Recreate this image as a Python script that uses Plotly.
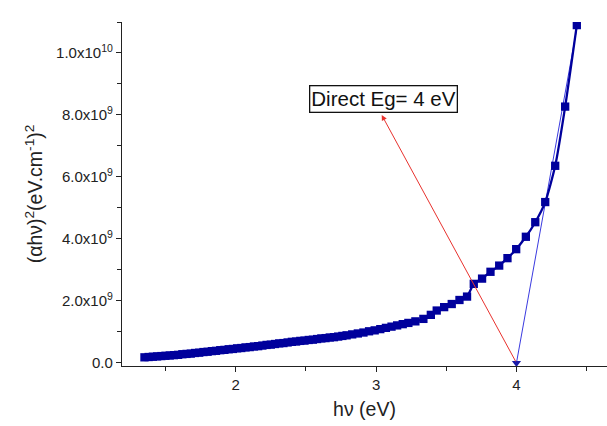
import plotly.graph_objects as go

# Photon energy (eV) and (alpha h nu)^2 values (in units of 1e9 (eV/cm)^2)
hv = [1.35, 1.38, 1.41, 1.44, 1.47, 1.50, 1.53, 1.56, 1.59, 1.62, 1.65, 1.68, 1.71, 1.74,
      1.77, 1.80, 1.83, 1.86, 1.89, 1.92, 1.95, 1.98, 2.01, 2.04, 2.07, 2.10, 2.13, 2.16,
      2.19, 2.22, 2.25, 2.28, 2.31, 2.34, 2.37, 2.40, 2.43, 2.46, 2.49, 2.52, 2.55, 2.58,
      2.61, 2.64, 2.67, 2.70, 2.73, 2.76, 2.79, 2.83, 2.87, 2.91, 2.95, 2.99, 3.03, 3.07,
      3.11, 3.15, 3.19, 3.23, 3.28, 3.337, 3.39, 3.432, 3.485, 3.539, 3.594, 3.648, 3.696,
      3.755, 3.815, 3.877, 3.936, 3.998, 4.067, 4.134, 4.205, 4.276, 4.347, 4.43]
ahv2_e9 = [0.18, 0.19, 0.20, 0.21, 0.22, 0.23, 0.24, 0.25, 0.26, 0.28, 0.29, 0.30, 0.32, 0.33,
           0.35, 0.36, 0.38, 0.39, 0.41, 0.42, 0.44, 0.45, 0.47, 0.48, 0.50, 0.51, 0.53, 0.54,
           0.56, 0.58, 0.59, 0.61, 0.63, 0.64, 0.66, 0.68, 0.69, 0.71, 0.72, 0.74, 0.75, 0.77,
           0.79, 0.80, 0.82, 0.83, 0.85, 0.87, 0.89, 0.92, 0.95, 0.98, 1.02, 1.05, 1.09, 1.13,
           1.17, 1.21, 1.25, 1.29, 1.34, 1.42, 1.55, 1.69, 1.80, 1.90, 2.03, 2.14, 2.55,
           2.72, 2.94, 3.14, 3.38, 3.67, 4.07, 4.54, 5.19, 6.36, 8.27, 10.9]
ahv2 = [v * 1e9 for v in ahv2_e9]

# Linear extrapolation line (band gap fit)
fit_x = [4.0, 4.45]
fit_y = [0.0, 11.3e9]

# Band gap point
eg_x = [4.0]
eg_y = [0.0]

# Annotation
label_text = "Direct Eg= 4 eV"
label_x, label_y = 3.053, 8.53e9
arrow_tip = (3.04, 8.0e9)

# Ticks
y_tickvals = [0, 2e9, 4e9, 6e9, 8e9, 1e10]
y_ticktext = ["0.0", "2.0x10<sup>9</sup>", "4.0x10<sup>9</sup>", "6.0x10<sup>9</sup>",
              "8.0x10<sup>9</sup>", "1.0x10<sup>10</sup>"]
x_tickvals = [2, 3, 4]
x_ticktext = ["2", "3", "4"]

navy = "#00009C"
font_family = "Liberation Sans, Arial, sans-serif"

fig = go.Figure()
fig.add_trace(go.Scatter(
    x=fit_x, y=fit_y, mode="lines",
    line=dict(color="#3a3ae0", width=1),
    showlegend=False, hoverinfo="skip"))
fig.add_trace(go.Scatter(
    x=hv, y=ahv2, mode="lines+markers",
    line=dict(color=navy, width=2.3, shape="spline", smoothing=0.6),
    marker=dict(symbol="square", size=8.3, color=navy, line=dict(width=0)),
    showlegend=False))
fig.add_trace(go.Scatter(
    x=eg_x, y=eg_y, mode="markers",
    marker=dict(symbol="triangle-down", size=8, color="#1a1aa8"),
    showlegend=False, cliponaxis=False))

fig.add_annotation(
    x=arrow_tip[0], y=arrow_tip[1], ax=eg_x[0], ay=eg_y[0],
    xref="x", yref="y", axref="x", ayref="y",
    text="", showarrow=True, arrowhead=2, arrowsize=1.1, arrowwidth=1,
    arrowcolor="#e8322e")
fig.add_annotation(
    x=label_x, y=label_y, xref="x", yref="y", text=label_text, showarrow=False,
    font=dict(family=font_family, size=20.5, color="#111111"),
    bordercolor="#111111", borderwidth=1.3, borderpad=1, bgcolor="white")

fig.update_layout(
    width=607, height=426,
    margin=dict(l=121.5, r=0, t=21.7, b=60),
    paper_bgcolor="white", plot_bgcolor="white",
    font=dict(family=font_family, color="#222222"),
    xaxis=dict(
        range=[1.19, 4.645], showgrid=False, zeroline=False,
        showline=True, linecolor="#222222", linewidth=1.3,
        ticks="outside", ticklen=5, tickwidth=1.2, tickcolor="#222222",
        tickmode="array", tickvals=x_tickvals, ticktext=x_ticktext,
        tickfont=dict(size=15, color="#222222"),
        minor=dict(tickmode="linear", tick0=1.5, dtick=0.5, ticks="outside",
                   ticklen=4, tickwidth=1.2, tickcolor="#222222", showgrid=False),
        title=dict(text="h\u03bd (eV)", font=dict(size=19.5, color="#222222"), standoff=10),
    ),
    yaxis=dict(
        range=[-0.1e9, 11.0e9], showgrid=False, zeroline=False,
        showline=True, linecolor="#222222", linewidth=1.3,
        ticks="outside", ticklen=5, tickwidth=1.2, tickcolor="#222222",
        tickmode="array", tickvals=y_tickvals, ticktext=y_ticktext,
        tickfont=dict(size=15, color="#222222"),
        minor=dict(tickmode="linear", tick0=0, dtick=1e9, ticks="outside",
                   ticklen=4, tickwidth=1.2, tickcolor="#222222", showgrid=False),
        title=dict(text="(\u03b1h\u03bd)<sup>2</sup>(eV.cm<sup>-1</sup>)<sup>2</sup>",
                   font=dict(size=19.5, color="#222222"), standoff=8),
    ),
)

fig.write_html("out.html")
